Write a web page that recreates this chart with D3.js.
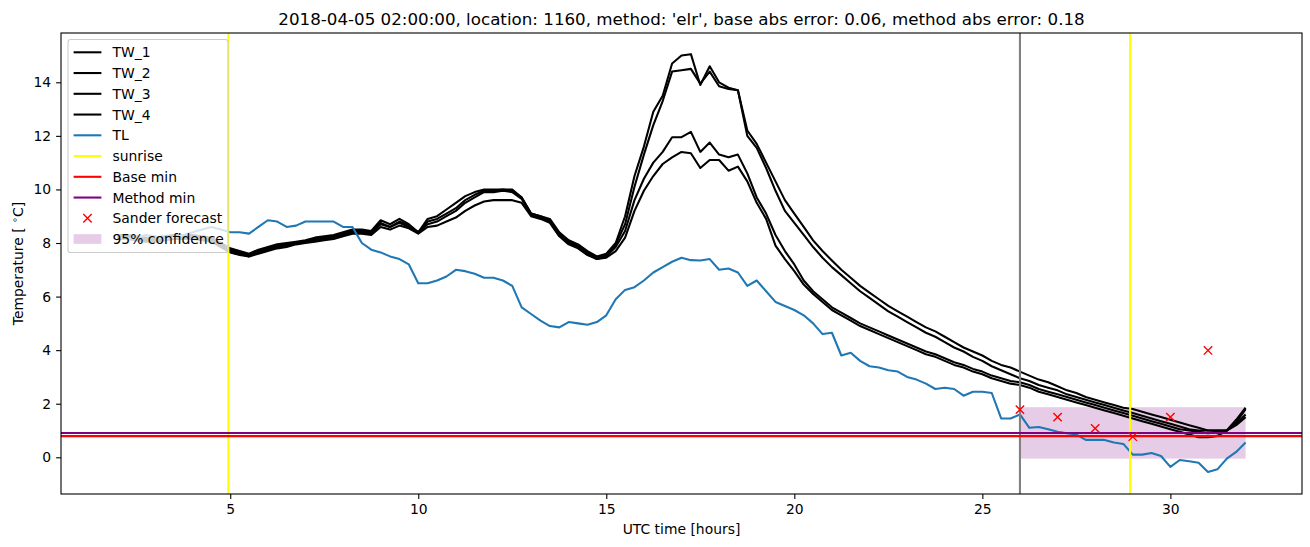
<!DOCTYPE html>
<html lang="en">
<head>
<meta charset="utf-8">
<title>Temperature forecast, location 1160</title>
<script src="https://cdn.jsdelivr.net/npm/d3@7/dist/d3.min.js"></script>
<style>
  body { margin: 0; background: #fff; }
  svg { font-family: "DejaVu Sans", sans-serif; }
  .axis text { font-size: 13.9px; fill: #000; }
  .axis path, .axis line { stroke: #000; stroke-width: 1.1px; }
</style>
</head>
<body>
<script>
// time grid: every quarter hour from 2 to 32 UTC hours
var startHour = 2, stepHour = 0.25, nPoints = 121;

var tw1 = [
  8.3, 8.3, 8.25, 8.2,   8.2, 8.25, 8.3, 8.3,   8.3, 8.25, 8.2, 8.0,
  7.8, 7.7, 7.6, 7.75,   7.85, 7.95, 8.0, 8.05, 8.1, 8.2, 8.25, 8.3,
  8.4, 8.5, 8.5, 8.45,   8.85, 8.7, 8.9, 8.7,   8.4, 8.9, 9.0, 9.25,
  9.5, 9.75, 9.9, 10.0,  10.0, 10.0, 10.0, 9.7, 9.1, 9.0, 8.9, 8.4,
  8.1, 7.95, 7.7, 7.5,   7.6, 8.0, 9.0, 10.5,  11.6, 12.9, 13.5, 14.7,
  15.0, 15.05, 13.9, 14.6, 14.0, 13.8, 13.7, 12.2, 11.7, 11.0, 10.3, 9.6,
  9.1, 8.6, 8.1, 7.7,    7.35, 7.0, 6.7, 6.4,   6.15, 5.9, 5.65, 5.45,
  5.25, 5.05, 4.85, 4.7, 4.5, 4.3, 4.1, 3.95,  3.8, 3.6, 3.45, 3.35,
  3.2, 3.05, 2.9, 2.8,   2.65, 2.5, 2.4, 2.25,  2.15, 2.05, 1.95, 1.85,
  1.8, 1.7, 1.6, 1.5,    1.4, 1.3, 1.2, 1.1,    1.0, 1.0, 1.0, 1.4,
  1.85
];
var tw2 = [
  8.25, 8.25, 8.2, 8.15, 8.15, 8.2, 8.25, 8.25, 8.25, 8.2, 8.15, 7.95,
  7.75, 7.65, 7.55, 7.7, 7.8, 7.9, 7.95, 8.0,   8.05, 8.15, 8.2, 8.25,
  8.35, 8.45, 8.45, 8.4, 8.75, 8.6, 8.8, 8.65,  8.4, 8.8, 8.9, 9.1,
  9.3, 9.6, 9.8, 9.95,   9.95, 10.0, 9.95, 9.7, 9.1, 9.0, 8.85, 8.35,
  8.05, 7.9, 7.65, 7.45, 7.55, 7.95, 8.7, 10.1, 11.3, 12.4, 13.3, 14.4,
  14.45, 14.5, 13.95, 14.4, 13.85, 13.75, 13.7, 12.0, 11.55, 10.8, 9.95, 9.2,
  8.75, 8.3, 7.85, 7.45, 7.1, 6.8, 6.5, 6.2,    5.95, 5.7, 5.45, 5.25,
  5.05, 4.85, 4.65, 4.5, 4.3, 4.1, 3.95, 3.75,  3.6, 3.4, 3.25, 3.1,
  2.95, 2.85, 2.7, 2.6,  2.5, 2.35, 2.25, 2.15, 2.05, 1.95, 1.85, 1.75,
  1.65, 1.55, 1.45, 1.35, 1.25, 1.15, 1.05, 1.0, 1.0, 1.0, 1.0, 1.25,
  1.6
];
var tw3 = [
  8.2, 8.2, 8.15, 8.1,   8.1, 8.15, 8.2, 8.2,   8.2, 8.15, 8.1, 7.9,
  7.7, 7.6, 7.5, 7.65,   7.75, 7.85, 7.9, 8.0,  8.05, 8.1, 8.15, 8.2,
  8.3, 8.4, 8.4, 8.35,   8.7, 8.6, 8.75, 8.6,   8.4, 8.7, 8.8, 9.0,
  9.2, 9.5, 9.7, 9.9,    9.9, 9.95, 9.9, 9.65,  9.05, 8.95, 8.8, 8.3,
  8.0, 7.85, 7.6, 7.4,   7.5, 7.85, 8.45, 9.6,  10.4, 11.0, 11.4, 11.95,
  11.95, 12.15, 11.4, 11.75, 11.3, 11.2, 11.3, 10.6, 9.7, 9.1, 8.3, 7.7,
  7.2, 6.6, 6.2, 5.9,    5.6, 5.4, 5.2, 5.0,    4.85, 4.7, 4.55, 4.4,
  4.25, 4.1, 3.95, 3.85, 3.7, 3.55, 3.45, 3.3,  3.2, 3.05, 2.95, 2.85,
  2.8, 2.7, 2.55, 2.45,  2.35, 2.25, 2.15, 2.05, 1.95, 1.85, 1.75, 1.65,
  1.55, 1.45, 1.35, 1.25, 1.15, 1.05, 1.0, 0.95, 0.9, 0.95, 1.0, 1.3,
  1.8
];
var tw4 = [
  8.15, 8.15, 8.1, 8.05, 8.05, 8.1, 8.15, 8.15, 8.15, 8.1, 8.05, 7.85,
  7.65, 7.55, 7.5, 7.6,  7.7, 7.8, 7.85, 7.95,  8.0, 8.05, 8.1, 8.15,
  8.25, 8.35, 8.35, 8.3, 8.6, 8.5, 8.65, 8.55,  8.35, 8.6, 8.65, 8.8,
  8.95, 9.2, 9.4, 9.55,  9.6, 9.6, 9.6, 9.5,    9.0, 8.9, 8.75, 8.25,
  7.95, 7.8, 7.55, 7.4,  7.45, 7.7, 8.2, 9.2,   9.95, 10.5, 10.95, 11.2,
  11.4, 11.35, 10.8, 11.1, 11.1, 10.7, 10.85, 10.3, 9.5, 8.9, 7.9, 7.4,
  6.95, 6.45, 6.1, 5.8,  5.5, 5.3, 5.1, 4.9,    4.75, 4.6, 4.45, 4.3,
  4.15, 4.0, 3.85, 3.75, 3.6, 3.45, 3.35, 3.2,  3.1, 2.95, 2.85, 2.75,
  2.7, 2.6, 2.45, 2.35,  2.25, 2.15, 2.05, 1.95, 1.85, 1.75, 1.65, 1.55,
  1.45, 1.35, 1.25, 1.15, 1.05, 0.95, 0.85, 0.75, 0.75, 0.8, 1.0, 1.2,
  1.5
];
var tl = [
  8.2, 8.15, 8.2, 8.3,   8.25, 8.15, 8.2, 8.3,  8.4, 8.5, 8.6, 8.5,
  8.4, 8.4, 8.35, 8.6,   8.85, 8.8, 8.6, 8.65,  8.8, 8.8, 8.8, 8.8,
  8.6, 8.6, 8.0, 7.75,   7.65, 7.5, 7.4, 7.2,   6.5, 6.5, 6.6, 6.75,
  7.0, 6.95, 6.85, 6.7,  6.7, 6.6, 6.4, 5.6,    5.35, 5.1, 4.9, 4.85,
  5.05, 5.0, 4.95, 5.05, 5.3, 5.9, 6.25, 6.35,  6.6, 6.9, 7.1, 7.3,
  7.45, 7.36, 7.35, 7.4, 7.0, 7.05, 6.9, 6.4,   6.6, 6.2, 5.8, 5.65,
  5.5, 5.3, 5.0, 4.6,    4.65, 3.8, 3.9, 3.6,   3.4, 3.35, 3.25, 3.2,
  3.0, 2.9, 2.75, 2.55,  2.6, 2.55, 2.3, 2.45,  2.45, 2.4, 1.45, 1.45,
  1.6, 1.1, 1.13, 1.05,  0.95, 0.9, 0.85, 0.65, 0.65, 0.65, 0.55, 0.5,
  0.1, 0.1, 0.16, 0.05,  -0.36, -0.1, -0.15, -0.2, -0.55, -0.45, -0.05, 0.2,
  0.55
];

var sunriseHours = [4.95, 28.93];
var analysisHour = 26;
var baseMin = 0.79, methodMin = 0.91;
var forecastHours = [26, 27, 28, 29, 30, 31];
var forecastTemps = [1.78, 1.5, 1.08, 0.77, 1.5, 3.99];
var confHours = [26, 32];
var confLow = -0.05, confHigh = 1.87;

var xTicks = [5, 10, 15, 20, 25, 30];
var yTicks = [0, 2, 4, 6, 8, 10, 12, 14];

var titleText = "2018-04-05 02:00:00, location: 1160, method: 'elr', base abs error: 0.06, method abs error: 0.18";

var W = 1310, H = 547;
var axL = 61, axR = 1302, axT = 33, axB = 494;
var lw = 2.08;

var hours = d3.range(nPoints).map(function(i) { return startHour + i * stepHour; });

var svg = d3.select("body").append("svg")
    .attr("width", W)
    .attr("height", H);

var x = d3.scaleLinear().domain([0.5, 33.5]).range([axL, axR]);
var y = d3.scaleLinear().domain([-1.37, 15.84]).range([axB, axT]);

svg.append("clipPath").attr("id", "clip")
   .append("rect").attr("x", axL).attr("y", axT)
   .attr("width", axR - axL).attr("height", axB - axT);
var plot = svg.append("g").attr("clip-path", "url(#clip)");

// confidence band (collection, drawn under the lines)
plot.append("rect")
    .attr("x", x(confHours[0]))
    .attr("y", y(confHigh))
    .attr("width", x(confHours[1]) - x(confHours[0]))
    .attr("height", y(confLow) - y(confHigh))
    .attr("fill", "rgba(128,0,128,0.2)");

var line = d3.line()
    .x(function(d, i) { return x(hours[i]); })
    .y(function(d) { return y(d); });

[tw1, tw2, tw3, tw4].forEach(function(s) {
  plot.append("path").datum(s)
      .attr("d", line)
      .attr("fill", "none")
      .attr("stroke", "#000")
      .attr("stroke-width", lw)
      .attr("stroke-linejoin", "round");
});

plot.append("path").datum(tl)
    .attr("d", line)
    .attr("fill", "none")
    .attr("stroke", "#1f77b4")
    .attr("stroke-width", lw)
    .attr("stroke-linejoin", "round");

plot.append("line")
    .attr("x1", x(analysisHour)).attr("x2", x(analysisHour))
    .attr("y1", axT).attr("y2", axB)
    .attr("stroke", "#808080").attr("stroke-width", lw);

plot.selectAll(".sunrise").data(sunriseHours).enter()
    .append("line")
    .attr("x1", function(d) { return x(d); })
    .attr("x2", function(d) { return x(d); })
    .attr("y1", axT).attr("y2", axB)
    .attr("stroke", "#ffff00").attr("stroke-width", lw);

plot.append("line")
    .attr("x1", axL).attr("x2", axR)
    .attr("y1", y(baseMin)).attr("y2", y(baseMin))
    .attr("stroke", "#ff0000").attr("stroke-width", lw);

plot.append("line")
    .attr("x1", axL).attr("x2", axR)
    .attr("y1", y(methodMin)).attr("y2", y(methodMin))
    .attr("stroke", "#800080").attr("stroke-width", lw);

function cross(g, cx, cy, r) {
  g.append("path")
   .attr("d", "M" + (cx - r) + "," + (cy - r) + "L" + (cx + r) + "," + (cy + r) +
              "M" + (cx - r) + "," + (cy + r) + "L" + (cx + r) + "," + (cy - r))
   .attr("stroke", "#ff0000").attr("stroke-width", 1.4).attr("fill", "none");
}
forecastHours.forEach(function(hr, i) {
  cross(plot, x(hr), y(forecastTemps[i]), 4.2);
});

// axes
svg.append("g")
   .attr("class", "axis")
   .attr("transform", "translate(0," + axB + ")")
   .call(d3.axisBottom(x).tickValues(xTicks).tickSize(4.9).tickPadding(4.9).tickSizeOuter(0))
   .call(function(g) { g.select(".domain").remove(); });

svg.append("g")
   .attr("class", "axis")
   .attr("transform", "translate(" + axL + ",0)")
   .call(d3.axisLeft(y).tickValues(yTicks).tickSize(4.9).tickPadding(4.9).tickSizeOuter(0))
   .call(function(g) { g.select(".domain").remove(); });

svg.selectAll(".axis text").attr("font-family", "DejaVu Sans");

svg.append("rect")
   .attr("x", axL).attr("y", axT)
   .attr("width", axR - axL).attr("height", axB - axT)
   .attr("fill", "none").attr("stroke", "#000").attr("stroke-width", 1.1);

svg.append("text")
   .attr("x", (axL + axR) / 2).attr("y", 24.5)
   .attr("text-anchor", "middle")
   .style("font-size", "16.7px")
   .text(titleText);

svg.append("text")
   .attr("x", (axL + axR) / 2).attr("y", 534)
   .attr("text-anchor", "middle")
   .style("font-size", "13.9px")
   .text("UTC time [hours]");

var yl = svg.append("text")
   .attr("transform", "translate(23," + ((axT + axB) / 2) + ") rotate(-90)")
   .attr("text-anchor", "middle")
   .style("font-size", "13.9px");
yl.append("tspan").text("Temperature [ ");
yl.append("tspan").attr("dy", -5).style("font-size", "9.7px").text("\u2218");
yl.append("tspan").attr("dy", 5).text("C]");

// legend
var legItems = [
  {label: "TW_1", type: "line", color: "#000"},
  {label: "TW_2", type: "line", color: "#000"},
  {label: "TW_3", type: "line", color: "#000"},
  {label: "TW_4", type: "line", color: "#000"},
  {label: "TL", type: "line", color: "#1f77b4"},
  {label: "sunrise", type: "line", color: "#ffff00"},
  {label: "Base min", type: "line", color: "#ff0000"},
  {label: "Method min", type: "line", color: "#800080"},
  {label: "Sander forecast", type: "marker", color: "#ff0000"},
  {label: "95% confidence", type: "patch", color: "rgba(128,0,128,0.2)"}
];
var leg = svg.append("g");
leg.append("rect")
   .attr("x", 68).attr("y", 39.5).attr("width", 160).attr("height", 213)
   .attr("rx", 2.8)
   .attr("fill", "rgba(255,255,255,0.8)")
   .attr("stroke", "#cccccc").attr("stroke-width", 1.1);

legItems.forEach(function(it, i) {
  var cy = 52.3 + i * 20.75;
  if (it.type === "line") {
    leg.append("line").attr("x1", 73.6).attr("x2", 101.4)
       .attr("y1", cy).attr("y2", cy)
       .attr("stroke", it.color).attr("stroke-width", lw);
  } else if (it.type === "marker") {
    cross(leg, 87.5, cy, 4.2);
  } else {
    leg.append("rect").attr("x", 73.6).attr("y", cy - 4.9)
       .attr("width", 27.8).attr("height", 9.7)
       .attr("fill", it.color);
  }
  leg.append("text")
     .attr("x", 112.5).attr("y", cy + 5)
     .style("font-size", "13.9px")
     .text(it.label);
});
</script>
</body>
</html>
